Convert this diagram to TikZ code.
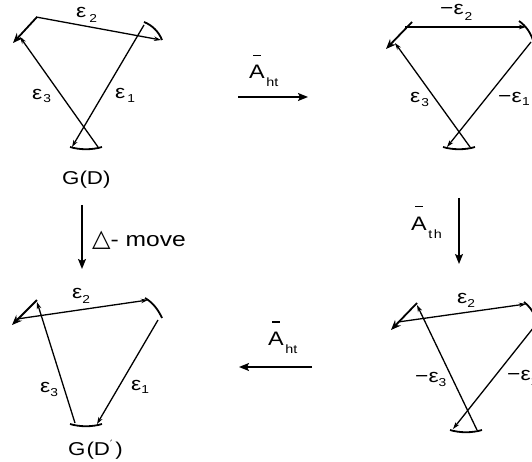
\documentclass[tikz,border=0pt]{standalone}
\usepackage{fontspec}
\setmainfont{Liberation Sans}[FakeStretch=1.2]
\newfontfamily\symfont{DejaVu Sans}
\usetikzlibrary{arrows.meta}
\newcommand{\sz}[1]{\fontsize{#1}{#1}\selectfont}
% prefix, gap, subscript, drop
\newcommand{\Eps}[4]{\sz{19}#1ε\hspace{#2}\raisebox{-#4}{\sz{11.5}#3}}
\newcommand{\Abar}{\ooalign{A\cr\hidewidth\rule[22.5pt]{8pt}{1.2pt}\hidewidth\cr}}
\newcommand{\Aop}[1]{\sz{19.5}\Abar\hspace{1.5pt}\raisebox{-8pt}{\sz{12}#1}}
\begin{document}
\begin{tikzpicture}[x=1pt,y=-1pt,
  edge/.style={line width=1.3pt},
  vtx/.style={line width=1.8pt},
  ea/.style={-{Stealth[length=7pt,width=4.5pt]}},
  va/.style={-{Stealth[length=10pt,width=8pt]}},
  conn/.style={line width=1.4pt,-{Stealth[length=10pt,width=8pt,inset=2pt]}},
  lbl/.style={inner sep=0pt,anchor=base west}]
\useasboundingbox (0,0) rectangle (532,462);
\clip (0,0) rectangle (532,462);

% ---------- Graph 1: G(D)
\coordinate (g1a1) at (37,17);  \coordinate (g1a2) at (13,43);
\coordinate (g1b1) at (144,22); \coordinate (g1b2) at (162,40);
\coordinate (g1c1) at (70,147); \coordinate (g1c2) at (102,147);
\coordinate (g1e2s) at (36,17); \coordinate (g1e2t) at (161,40);
\coordinate (g1e1s) at (144,25); \coordinate (g1e1t) at (72,147);
\coordinate (g1e3s) at (98,147); \coordinate (g1e3t) at (20,37);
\draw[vtx,va] (g1a1) -- (g1a2);
\draw[vtx] (g1b1) .. controls (152,25) and (159,32) .. (g1b2);
\draw[vtx] (g1c1) .. controls (80,150) and (92,150) .. (g1c2);
\draw[edge,ea] (g1e2s) -- (g1e2t);
\draw[edge,ea] (g1e1s) -- (g1e1t);
\draw[edge,ea] (g1e3s) -- (g1e3t);
\node[lbl] (g1l2) at (76,18) {\Eps{}{3pt}{2}{5pt}};
\node[lbl] (g1l3) at (32,100) {\Eps{}{1pt}{3}{3pt}};
\node[lbl] (g1l1) at (115,99) {\Eps{}{2pt}{1}{4pt}};
\node[lbl] (g1n) at (62,185) {\sz{18.6}G(D)};

% ---------- Graph 2
\coordinate (g2a1) at (412,22);  \coordinate (g2a2) at (386,49);
\coordinate (g2b1) at (519,21);  \coordinate (g2b2) at (533,40);
\coordinate (g2c1) at (443,147); \coordinate (g2c2) at (475,147);
\coordinate (g2e2s) at (405,27); \coordinate (g2e2t) at (526,27);
\coordinate (g2e1s) at (531,42); \coordinate (g2e1t) at (447,147);
\coordinate (g2e3s) at (470,147); \coordinate (g2e3t) at (395,43);
\draw[vtx,va] (g2a1) -- (g2a2);
\draw[vtx] (g2b1) .. controls (526,26) and (530,32) .. (g2b2);
\draw[vtx] (g2c1) .. controls (453,150) and (465,150) .. (g2c2);
\draw[edge,ea] (g2e2s) -- (g2e2t);
\draw[edge,ea] (g2e1s) -- (g2e1t);
\draw[edge,ea] (g2e3s) -- (g2e3t);
\node[lbl] (g2l2) at (440,15) {\Eps{−}{1pt}{2}{6pt}};
\node[lbl] (g2l3) at (410,103) {\Eps{}{1pt}{3}{4pt}};
\node[lbl] (g2l1) at (498,103) {\Eps{−}{0.5pt}{1}{3pt}};

% ---------- Graph 3: G(D')
\coordinate (g3a1) at (37,300);  \coordinate (g3a2) at (12,325);
\coordinate (g3b1) at (145,298); \coordinate (g3b2) at (162,318);
\coordinate (g3c1) at (70,424);  \coordinate (g3c2) at (102,424);
\coordinate (g3e2s) at (17,319); \coordinate (g3e2t) at (148,300);
\coordinate (g3e1s) at (158,320); \coordinate (g3e1t) at (97,424);
\coordinate (g3e3s) at (75,423); \coordinate (g3e3t) at (37,302);
\draw[vtx,va] (g3a1) -- (g3a2);
\draw[vtx] (g3b1) .. controls (152,302) and (158,309) .. (g3b2);
\draw[vtx] (g3c1) .. controls (80,427) and (92,427) .. (g3c2);
\draw[edge,ea] (g3e2s) -- (g3e2t);
\draw[edge,ea] (g3e1s) -- (g3e1t);
\draw[edge,ea] (g3e3s) -- (g3e3t);
\node[lbl] (g3l2) at (72,298) {\Eps{}{0pt}{2}{5pt}};
\node[lbl] (g3l3) at (40,392) {\Eps{}{0pt}{3}{4pt}};
\node[lbl] (g3l1) at (131,390) {\Eps{}{0pt}{1}{3pt}};
\node[lbl] (g3n) at (68,455) {\sz{18.6}G\hspace{1pt}(D\raisebox{8pt}{\symfont\sz{10}′}\hspace{3pt})};

% ---------- Graph 4
\coordinate (g4a1) at (417,303); \coordinate (g4a2) at (391,330);
\coordinate (g4b1) at (524,302); \coordinate (g4b2) at (535,316);
\coordinate (g4c1) at (450,430); \coordinate (g4c2) at (482,430);
\coordinate (g4e2s) at (398,322); \coordinate (g4e2t) at (526,304);
\coordinate (g4e1s) at (534,327); \coordinate (g4e1t) at (453,429);
\coordinate (g4e3s) at (477,430); \coordinate (g4e3t) at (417,305);
\draw[vtx,va] (g4a1) -- (g4a2);
\draw[vtx] (g4b1) .. controls (529,306) and (532,310) .. (g4b2);
\draw[vtx] (g4c1) .. controls (460,433) and (472,433) .. (g4c2);
\draw[edge,ea] (g4e2s) -- (g4e2t);
\draw[edge,ea] (g4e1s) -- (g4e1t);
\draw[edge,ea] (g4e3s) -- (g4e3t);
\node[lbl] (g4l2) at (457,303) {\Eps{}{0pt}{2}{4pt}};
\node[lbl] (g4l3) at (415,382) {\Eps{−}{0pt}{3}{4pt}};
\node[lbl] (g4l1) at (507,380) {\Eps{−}{0pt}{1}{5pt}};

% ---------- connectors between the diagrams
\coordinate (t1) at (238,97);  \coordinate (t2) at (308,97);
\coordinate (l1) at (82,205);  \coordinate (l2) at (82,269);
\coordinate (r1) at (459,198); \coordinate (r2) at (459,264);
\coordinate (b1) at (312,367); \coordinate (b2) at (239,367);
\draw[conn] (t1) -- (t2);
\draw[conn] (l1) -- (l2);
\draw[conn] (r1) -- (r2);
\draw[conn] (b1) -- (b2);
\node[lbl] (tl) at (249,79) {\Aop{ht}};
\node[lbl] (rl) at (411,230) {\Aop{t\hspace{1.5pt}h}};
\node[lbl] (bl) at (268,345) {\Aop{ht}};
\node[lbl] (ll) at (92,246) {{\symfont\sz{24}△}\sz{20.5}- move};
\end{tikzpicture}
\end{document}
